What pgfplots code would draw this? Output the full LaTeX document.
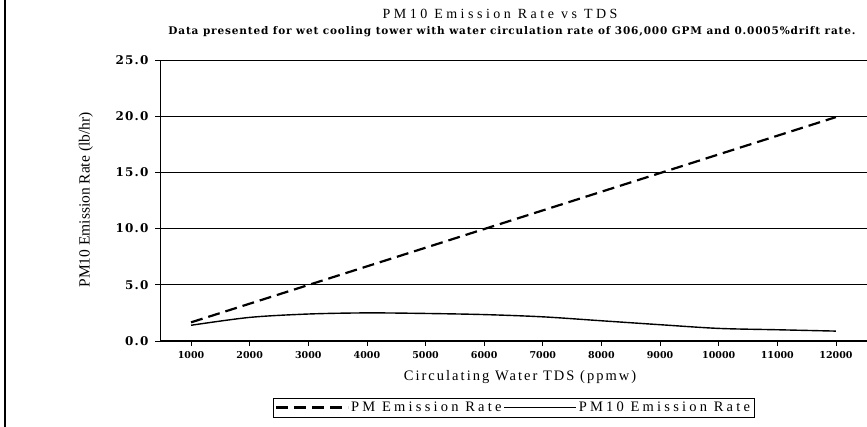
\documentclass[border=0pt]{standalone}
\usepackage{pgfplots}
\pgfplotsset{compat=1.18}
\usepackage{fontspec}
\setmainfont{Liberation Serif}
\newfontfamily\titlefont[LetterSpace=25]{Liberation Serif}
\newfontfamily\subfont[LetterSpace=8]{DejaVu Serif}
\newfontfamily\xlabfont[LetterSpace=14]{Liberation Serif}
\newfontfamily\ylabfont{Liberation Serif}
\newfontfamily\legfont[LetterSpace=22]{Liberation Serif}
\newfontfamily\xtickfont{DejaVu Serif}
\newfontfamily\ytickfont[LetterSpace=10]{DejaVu Serif}
\begin{document}
\begin{tikzpicture}[x=1pt,y=1pt]
\useasboundingbox (0,0) rectangle (867,427);
\draw[line width=1.2pt] (5,0) -- (5,427);
\begin{axis}[
  at={(160pt,86pt)}, anchor=south west,
  scale only axis, width=707pt, height=281pt,
  xmin=470, xmax=12530, ymin=0, ymax=25,
  axis x line*=bottom, axis y line*=left,
  axis line style={line width=1pt, -},
  xtick={1000,2000,...,12000},
  ytick={0,5,...,25},
  ymajorgrids, grid style={black, line width=0.6pt},
  tick style={black, line width=0.8pt},
  tick align=outside, major tick length=5pt,
  /pgf/number format/assume math mode=true,
  xticklabel style={font=\xtickfont\fontsize{9.5}{11}\selectfont\bfseries, yshift=-2pt},
  yticklabel style={font=\ytickfont\fontsize{12}{14}\selectfont\bfseries, xshift=-3pt},
  xticklabel={\pgfmathprintnumber[fixed, precision=0, set thousands separator={}]{\tick}},
  yticklabel={\pgfmathprintnumber[fixed, fixed zerofill, precision=1]{\tick}},
  scaled ticks=false,
  legend style={at={(0.5,-0.237)}, anchor=center, legend columns=2,
    draw=black, line width=0.8pt, font=\legfont\fontsize{14.5}{16}\selectfont,
    inner sep=2pt,
    /tikz/every even column/.append style={column sep=0pt}},
  legend image code/.code={\draw[#1] (0pt,0pt) -- (72pt,0pt);},
]
\addplot[black, line width=2.2pt, dash pattern=on 12pt off 6pt] coordinates {
(1000,1.66) (2000,3.32) (3000,4.98) (4000,6.64) (5000,8.30) (6000,9.96)
(7000,11.62) (8000,13.28) (9000,14.94) (10000,16.60) (11000,18.26) (12000,19.92)};
\addlegendentry{PM Emission Rate}
\addplot[black, line width=1.4pt, smooth] coordinates {
(1000,1.40) (2000,2.10) (3000,2.40) (4000,2.50) (5000,2.45) (6000,2.35)
(7000,2.15) (8000,1.80) (9000,1.45) (10000,1.12) (11000,1.00) (12000,0.88)};
\addlegendentry{PM10 Emission Rate}
\end{axis}
\node[font=\titlefont\fontsize{14}{16}\selectfont] at (500,413) {PM10 Emission Rate vs TDS};
\node[font=\subfont\fontsize{10.5}{12}\selectfont\bfseries] at (512,395) {Data presented for wet cooling tower with water circulation rate of 306,000 GPM and 0.0005\%drift rate.};
\node[font=\xlabfont\fontsize{14.5}{16}\selectfont] at (520,50) {Circulating Water TDS (ppmw)};
\node[font=\ylabfont\fontsize{15.5}{17}\selectfont, rotate=90] at (86,227) {PM10 Emission Rate (lb/hr)};
\end{tikzpicture}
\end{document}
